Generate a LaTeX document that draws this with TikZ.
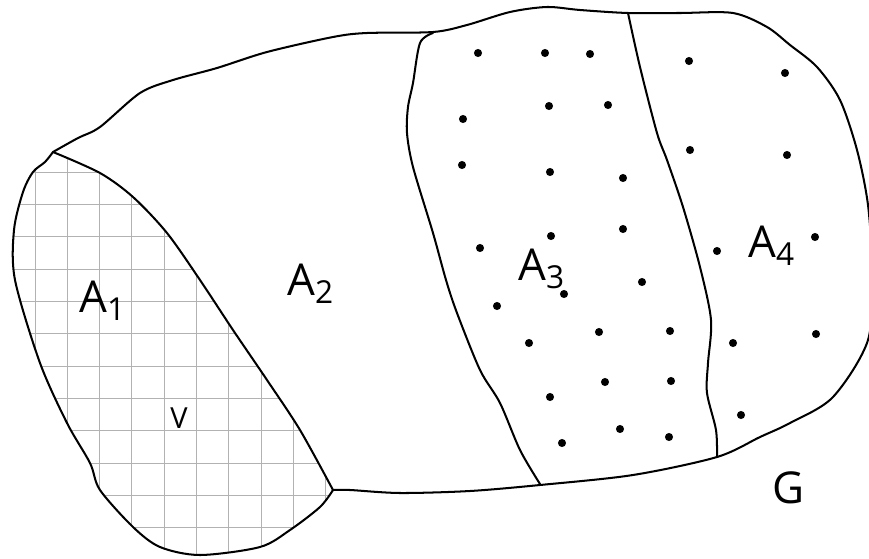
\documentclass[tikz,border=0pt]{standalone}
\usepackage{fontspec}
\setmainfont{Open Sans}
\usetikzlibrary{calc}
\newcommand{\arealabel}[2]{#1\raisebox{-4.7pt}{\fontsize{18}{18}\selectfont #2}}

\begin{document}
\begin{tikzpicture}[x=0.02cm,y=-0.02cm,
  rim/.style={line width=1.15pt,line join=round,line cap=round},
  mesh/.style={gray!60,line width=0.5pt},
  lbl/.style={inner sep=0pt,anchor=base west,font=\fontsize{25}{25}\selectfont},
  small/.style={inner sep=0pt,anchor=base west,font=\fontsize{16.5}{16.5}\selectfont}]
  \useasboundingbox (0,0) rectangle (869,558);
  \begin{scope}
    \clip plot[smooth] coordinates {(333,490) (320,507) (290,530) (260,547) (200,555) (160,547) (133,527) (100,490) (90,463) (67,423) (40,363) (15,280) (14,230) (23,192) (33,172) (45,162) (53,152)}
      -- plot[smooth] coordinates {(53,152) (100,173) (133,197) (167,233) (200,280) (233,330) (267,380) (300,430) (333,490)} -- cycle;
    \foreach \i in {0,...,9}
      \draw[mesh] ({35+32.3*\i},140) -- ({35+32.3*\i},560);
    \foreach \j in {0,...,11}
      \draw[mesh] (0,{172.3+32.3*\j}) -- (340,{172.3+32.3*\j});
  \end{scope}
  \draw[rim] plot[smooth] coordinates {(53,152) (78,138) (100,127) (140,93) (173,80) (217,68) (267,52) (333,37) (367,33) (433,32) (467,25) (510,12) (547,7) (580,10) (628,13) (680,13) (733,13) (767,27) (790,45) (817,67) (840,100) (857,150) (868,205) (872,270) (868,340) (833,397) (790,423) (760,437) (717,457) (633,475) (540,485) (470,491) (400,493) (350,490) (333,490)};
  \draw[rim] plot[smooth] coordinates {(333,490) (320,507) (290,530) (260,547) (200,555) (160,547) (133,527) (100,490) (90,463) (67,423) (40,363) (15,280) (14,230) (23,192) (33,172) (45,162) (53,152)};
  \draw[rim] plot[smooth] coordinates {(53,152) (100,173) (133,197) (167,233) (200,280) (233,330) (267,380) (300,430) (333,490)};
  \draw[rim] plot[smooth] coordinates {(433,33) (420,43) (413,83) (408,107) (407,133) (413,167) (433,233) (446,280) (457,313) (480,370) (500,403) (520,450) (540,484)};
  \draw[rim] plot[smooth] coordinates {(628,13) (640,67) (657,133) (667,160) (683,207) (700,267) (711,320) (708,363) (707,393) (716,430) (717,457)};
  \foreach \p in {(478,53),(545,53),(590,54),(463,119),(549,106),(608,105),(462,165),(550,172),(623,178),(480,248),(551,236),(623,229),(642,282),(564,294),(497,306),(599,332),(670,331),(529,343),(605,382),(671,381),(550,397),(620,429),(669,437),(562,443),(689,61),(785,73),(690,150),(787,155),(717,251),(815,237),(733,343),(816,334),(741,415)}
    \fill \p circle (2.3pt);
  \node[lbl] (a1) at (79,312) {\arealabel{A}{1}};
  \node[lbl] (a2) at (287,295) {\arealabel{A}{2}};
  \node[lbl] (a3) at (518,280) {\arealabel{A}{3}};
  \node[lbl] (a4) at (748,257) {\arealabel{A}{4}};
  \node[small] (v) at (170,428) {V};
  \node[lbl] (g) at (772,503) {G};
\end{tikzpicture}
\end{document}
